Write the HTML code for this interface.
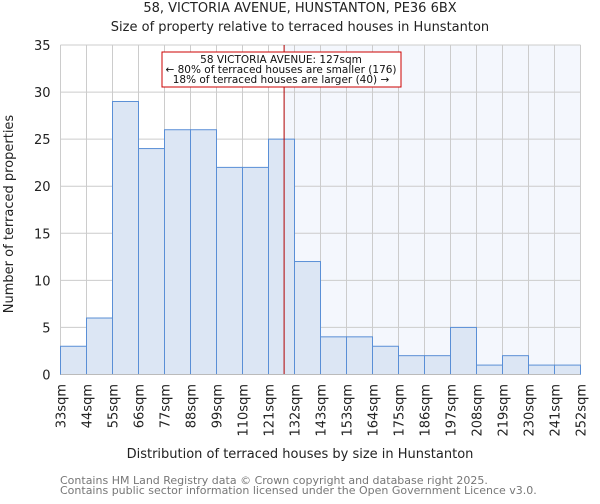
<!DOCTYPE html>
<html><head><meta charset="utf-8"><style>
body{margin:0;background:#fff;font-family:"DejaVu Sans","Liberation Sans",sans-serif}
</style></head><body>
<svg width="600" height="500" xmlns="http://www.w3.org/2000/svg" font-family="DejaVu Sans, Liberation Sans, sans-serif" id="svg">
<text x="300" y="12" text-anchor="middle" font-size="13" fill="#222">58, VICTORIA AVENUE, HUNSTANTON, PE36 6BX</text>
<text x="300" y="31" text-anchor="middle" font-size="13" fill="#222">Size of property relative to terraced houses in Hunstanton</text>
<g id="plot"></g>
<text x="300" y="458" text-anchor="middle" font-size="13" fill="#222">Distribution of terraced houses by size in Hunstanton</text>
<text transform="translate(13,214) rotate(-90)" text-anchor="middle" font-size="13" fill="#222">Number of terraced properties</text>
<text x="60" y="484" font-size="11" fill="#777">Contains HM Land Registry data © Crown copyright and database right 2025.</text>
<text x="60" y="494" font-size="11" fill="#777">Contains public sector information licensed under the Open Government Licence v3.0.</text>
</svg>
<script>
const categories=["33sqm","44sqm","55sqm","66sqm","77sqm","88sqm","99sqm","110sqm","121sqm","132sqm","143sqm","153sqm","164sqm","175sqm","186sqm","197sqm","208sqm","219sqm","230sqm","241sqm","252sqm"];
const counts=[3,6,29,24,26,26,22,22,25,12,4,4,3,2,2,5,1,2,1,1];
const yTicks=[0,5,10,15,20,25,30,35];
const markerBin=8.6;
const L=60.5,R=580.5,T=45,B=374.5,yMax=35;
const n=counts.length;
const xs=i=>L+(R-L)*i/n;
const ys=v=>B-(B-T)*v/yMax;
const g=document.getElementById('plot');const NS="http://www.w3.org/2000/svg";
function mk(t,a){const e=document.createElementNS(NS,t);for(const k in a)e.setAttribute(k,a[k]);g.appendChild(e);return e;}
const sh=mk('rect',{x:xs(markerBin),y:T,width:R-xs(markerBin),height:B-T,fill:'#f4f7fd'});


for(let i=0;i<=n;i++){const l=mk('line',{x1:xs(i),x2:xs(i),y1:T,y2:B,stroke:'#ccc','stroke-width':1});

}
yTicks.forEach(v=>{const l=mk('line',{x1:L,x2:R,y1:ys(v),y2:ys(v),stroke:'#ccc','stroke-width':1});


const t=mk('text',{x:L-10,y:ys(v)+5,'text-anchor':'end','font-size':13,fill:'#222'});t.textContent=v;

});
counts.forEach((c,i)=>{const r=mk('rect',{x:xs(i),y:ys(c),width:xs(1)-xs(0),height:B-ys(c),fill:'#dce6f4',stroke:'#5a8fd6','stroke-width':1});

});
categories.forEach((c,i)=>{const t=mk('text',{transform:`translate(${xs(i)+5},384) rotate(-90)`,'text-anchor':'end','font-size':13,fill:'#222'});t.textContent=c;

});
const ml=mk('line',{x1:xs(markerBin),x2:xs(markerBin),y1:T,y2:B,stroke:'#b00000','stroke-width':1});


const bx=mk('rect',{x:162,y:52,width:239,height:35,fill:'#fff',stroke:'#c00','stroke-width':1});


["58 VICTORIA AVENUE: 127sqm","← 80% of terraced houses are smaller (176)","18% of terraced houses are larger (40) →"].forEach((s,k)=>{const t=mk('text',{x:281,y:63+k*10,'text-anchor':'middle','font-size':10.5,fill:'#111'});t.textContent=s;

});
const ax=mk('line',{x1:L,x2:R,y1:B,y2:B,stroke:'#bbb'});


</script>
</body></html>
